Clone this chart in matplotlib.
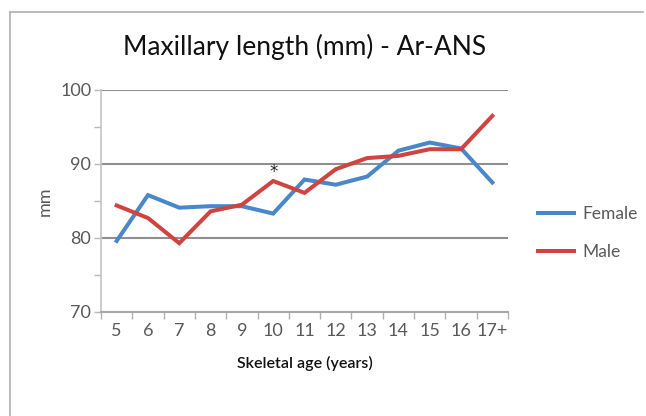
import matplotlib
matplotlib.use('Agg')
import matplotlib.pyplot as plt
from matplotlib.lines import Line2D
import numpy as np

ages = ["5", "6", "7", "8", "9", "10", "11", "12", "13", "14", "15", "16", "17+"]
female = [79.6, 85.8, 84.1, 84.3, 84.3, 83.3, 87.9, 87.2, 88.3, 91.8, 92.9, 92.1, 87.5]
male = [84.4, 82.7, 79.3, 83.6, 84.5, 87.7, 86.1, 89.3, 90.8, 91.1, 92.0, 92.0, 96.5]
star_age = "10"
star_y = 88.9

BLUE = "#4a87c8"
RED = "#cf4440"
GRID = "#8f8f8f"
TXT = "#595959"

plt.rcParams['font.family'] = ['Lato', 'DejaVu Sans']

fig = plt.figure(figsize=(6.46, 4.16), dpi=100)
fig.patch.set_facecolor("white")
# outer chart frame: only top and left edges are visible
fig.add_artist(Line2D([10 / 646, 0.995], [1 - 12 / 416] * 2, transform=fig.transFigure,
                      color="#b0b0b0", lw=1.2))
fig.add_artist(Line2D([10 / 646] * 2, [0.0, 1 - 12 / 416], transform=fig.transFigure,
                      color="#b0b0b0", lw=1.2))

ax = fig.add_axes([101 / 646, 1 - 312 / 416, (508 - 101) / 646, (312 - 90) / 416])
x = np.arange(len(ages))
ax.plot(x, female, color=BLUE, lw=2.9, label="Female", solid_joinstyle="miter")
ax.plot(x, male, color=RED, lw=2.9, label="Male", solid_joinstyle="miter")
ax.text(ages.index(star_age), star_y, "*", ha="center", va="center", fontsize=12,
        color="#222222", family="DejaVu Sans")

ax.set_xlim(-0.5, len(ages) - 0.5)
ax.set_ylim(70, 100)
ax.set_xticks(x)
ax.set_xticklabels(ages)
ax.set_xticks(np.arange(-0.5, len(ages), 1), minor=True)
ax.set_yticks([70, 80, 90, 100])
ax.set_yticks([75, 85, 95], minor=True)
ax.tick_params(axis="x", which="major", length=0, pad=8, labelsize=13, labelcolor=TXT)
ax.tick_params(axis="x", which="minor", length=5, width=1, color="#b0b0b0", direction="out")
ax.tick_params(axis="y", which="both", length=5, width=1, color="#b8b8b8", direction="out",
               labelsize=13, labelcolor=TXT, pad=2)

ax.yaxis.grid(True, which="major", color=GRID, lw=1.5)
ax.set_axisbelow(True)
for s in ("top", "right"):
    ax.spines[s].set_visible(False)
ax.spines["left"].set_color("#c4c4c4")
ax.spines["left"].set_linewidth(1.2)
ax.spines["bottom"].set_color("#a8a8a8")
ax.spines["bottom"].set_linewidth(1.5)

ax.set_ylabel("mm", fontsize=13, color=TXT, labelpad=5)
ax.set_xlabel("Skeletal age (years)", fontsize=11.5, color="#111111", fontweight="semibold",
              labelpad=12)
fig.text(305 / 646, 1 - 47 / 416, "Maxillary length (mm) - Ar-ANS", ha="center", va="center",
         fontsize=19, color="#111111")

fig.legend(loc="center left", bbox_to_anchor=(522 / 646, 1 - 233 / 416), frameon=False,
           fontsize=12.5, labelcolor=TXT, handlelength=2.1, labelspacing=1.3, handletextpad=0.5)

fig.savefig("out.png", dpi=100)
